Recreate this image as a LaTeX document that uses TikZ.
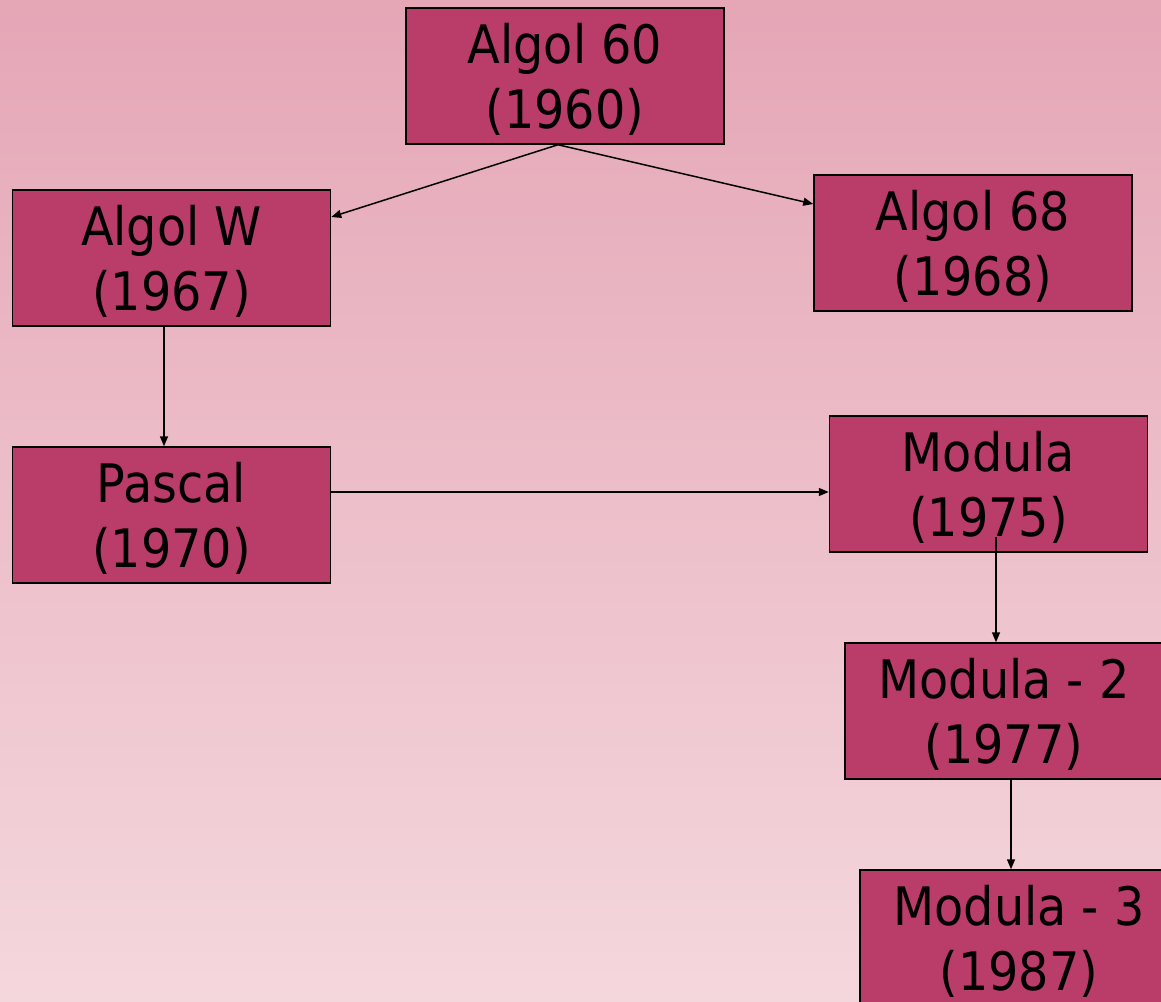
\documentclass[tikz,border=0pt]{standalone}
\usepackage{fontspec}
\setmainfont{DejaVu Sans Condensed}
\usetikzlibrary{arrows.meta,calc}
\definecolor{bgtop}{HTML}{E5A6B6}
\definecolor{bgbot}{HTML}{F4D7DD}
\definecolor{boxfill}{HTML}{BA3C68}
\tikzset{
  langbox/.style={draw=black, line width=1.5pt, fill=boxfill, minimum width=318pt, minimum height=136pt, inner sep=0pt},
  langtext/.style={align=center, inner sep=0pt, font=\fontsize{53}{65}\selectfont, yshift=-3pt},
  link/.style={draw=black, line width=1.5pt, -{Triangle[length=10pt,width=8pt]}}
}
\begin{document}
\begin{tikzpicture}[x=1pt,y=-1pt]
\clip (0,0) rectangle (1161,1001);
\shade[top color=bgtop, bottom color=bgbot] (0,0) rectangle (1161,1001);
\node[langbox, label={[langtext]center:Algol 60\\(1960)}] (a60) at (565,76) {};
\node[langbox, label={[langtext]center:Algol W\\(1967)}] (aw) at (171.5,258) {};
\node[langbox, label={[langtext]center:Algol 68\\(1968)}] (a68) at (973,243) {};
\node[langbox, label={[langtext]center:Pascal\\(1970)}] (pas) at (171.5,515) {};
\node[langbox, label={[langtext]center:Modula\\(1975)}] (mod) at (988.5,484) {};
\node[langbox, label={[langtext]center:Modula - 2\\(1977)}] (mod2) at (1004,711) {};
\node[langbox, label={[langtext]center:Modula - 3\\(1987)}] (mod3) at (1019,938) {};
\coordinate (a60out) at ([xshift=-7pt]a60.south);
\coordinate (modout) at (996,537);
\draw[link] (a60out) -- ([yshift=41pt]aw.east);
\draw[link] (a60out) -- ([yshift=39pt]a68.west);
\draw[link] ([xshift=-7.5pt]aw.south) -- ([xshift=-7.5pt]pas.north);
\draw[link] ([yshift=23pt]pas.east) -- (mod.west |- 0,492);
\draw[link] (modout) -- (modout |- mod2.north);
\draw[link] ([xshift=7pt]mod2.south) -- ([xshift=-8pt]mod3.north);
\end{tikzpicture}
\end{document}
